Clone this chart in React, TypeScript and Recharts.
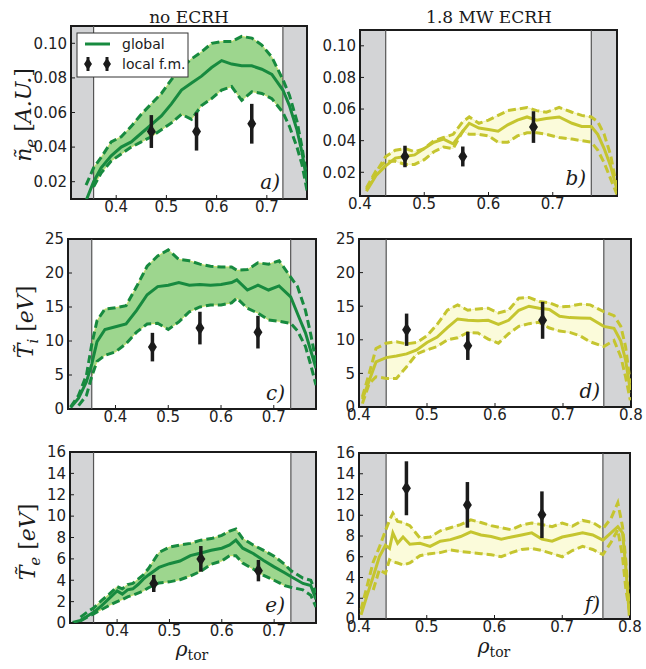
import React from 'react';
import {
  ComposedChart,
  Line,
  Area,
  Scatter,
  ErrorBar,
  XAxis,
  YAxis,
  ReferenceArea,
  ReferenceLine,
} from 'recharts';

// --- data ---

// a) n_e, no ECRH
const xA = [0.34, 0.355, 0.37, 0.39, 0.41, 0.43, 0.45, 0.47, 0.49, 0.51, 0.53, 0.55, 0.57, 0.59, 0.61, 0.63, 0.65, 0.67, 0.69, 0.71, 0.732, 0.745, 0.76, 0.77, 0.78];
const mainA = [0.009, 0.020, 0.028, 0.035, 0.040, 0.043, 0.048, 0.053, 0.058, 0.065, 0.073, 0.077, 0.081, 0.086, 0.090, 0.088, 0.087, 0.087, 0.085, 0.082, 0.073, 0.064, 0.050, 0.037, 0.020];
const hiA = [0.018, 0.028, 0.034, 0.043, 0.046, 0.052, 0.059, 0.065, 0.071, 0.079, 0.086, 0.091, 0.095, 0.100, 0.101, 0.101, 0.104, 0.103, 0.099, 0.092, 0.079, 0.070, 0.055, 0.040, 0.022];
const loA = [null, 0.017, 0.025, 0.032, 0.036, 0.040, 0.043, 0.046, 0.050, 0.054, 0.059, 0.056, 0.064, 0.068, 0.073, 0.075, 0.067, 0.072, 0.071, 0.068, 0.060, 0.052, 0.040, 0.030, 0.015];

// b) n_e, 1.8 MW ECRH
const xB = [0.41, 0.425, 0.44, 0.455, 0.47, 0.485, 0.50, 0.515, 0.53, 0.545, 0.56, 0.57, 0.585, 0.60, 0.615, 0.63, 0.645, 0.66, 0.675, 0.69, 0.71, 0.73, 0.745, 0.76, 0.77, 0.78, 0.79, 0.80];
const mainB = [0.008, 0.018, 0.024, 0.029, 0.030, 0.031, 0.035, 0.039, 0.041, 0.038, 0.046, 0.051, 0.048, 0.047, 0.046, 0.050, 0.053, 0.055, 0.053, 0.054, 0.055, 0.051, 0.049, 0.049, 0.044, 0.035, 0.024, 0.009];
const hiB = [0.009, 0.020, 0.030, 0.034, 0.035, 0.033, 0.035, 0.040, 0.042, 0.044, 0.052, 0.055, 0.051, 0.053, 0.056, 0.059, 0.060, 0.061, 0.059, 0.058, 0.061, 0.058, 0.056, 0.055, 0.052, 0.044, 0.031, 0.010];
const loB = [0.010, 0.021, 0.027, 0.027, 0.025, 0.025, 0.028, 0.033, 0.036, 0.035, 0.046, 0.044, 0.044, 0.043, 0.039, 0.039, 0.043, 0.045, 0.045, 0.044, 0.042, 0.041, 0.040, 0.039, 0.034, 0.026, 0.016, 0.006];

// c) T_i, no ECRH
const xC = [0.315, 0.33, 0.345, 0.355, 0.365, 0.38, 0.40, 0.42, 0.44, 0.46, 0.48, 0.50, 0.52, 0.54, 0.56, 0.58, 0.60, 0.62, 0.63, 0.65, 0.67, 0.69, 0.71, 0.732, 0.745, 0.76, 0.77, 0.78];
const mainC = [0.2, 1.6, 4.0, 6.6, 9.9, 11.7, 12.1, 12.5, 14.5, 16.8, 18.0, 18.2, 18.6, 18.2, 18.3, 18.2, 18.3, 18.6, 19.0, 17.5, 18.2, 17.5, 18.1, 16.5, 14.0, 11.2, 8.6, 6.0];
const hiC = [0.3, 2.0, 5.0, 9.5, 13.0, 14.7, 14.9, 15.2, 18.0, 21.0, 22.5, 23.4, 22.0, 21.8, 21.3, 21.0, 20.9, 20.9, 20.4, 20.5, 21.5, 21.3, 21.8, 19.4, 18.0, 14.5, 11.0, 7.0];
const loC = [null, 0.5, 2.0, 4.8, 7.0, 7.9, 8.4, 9.6, 11.3, 12.5, 12.6, 11.7, 12.8, 14.3, 15.0, 15.3, 15.3, 15.6, 16.3, 14.8, 14.1, 13.1, 12.9, 12.6, 11.5, 9.2, 6.5, 3.5];

// d) T_i, 1.8 MW ECRH
const xD = [0.405, 0.415, 0.425, 0.44, 0.455, 0.47, 0.485, 0.50, 0.515, 0.53, 0.545, 0.56, 0.575, 0.59, 0.605, 0.62, 0.635, 0.65, 0.665, 0.68, 0.695, 0.71, 0.725, 0.74, 0.76, 0.775, 0.785, 0.792, 0.799];
const mainD = [1.2, 3.9, 6.7, 7.35, 7.6, 7.9, 8.5, 9.6, 10.4, 11.8, 13.1, 12.9, 12.85, 12.9, 12.3, 12.9, 14.4, 15.0, 14.7, 14.5, 13.5, 13.3, 13.25, 13.2, 12.0, 11.7, 9.8, 7.0, 2.5];
const hiD = [1.5, 5.0, 8.7, 9.5, 9.7, 9.4, 9.6, 10.6, 12.3, 14.4, 15.2, 14.4, 14.6, 14.7, 14.0, 14.4, 16.2, 16.3, 15.7, 15.5, 14.9, 15.0, 15.3, 15.2, 14.2, 13.6, 12.0, 9.0, 3.5];
const loD = [0.5, 3.5, 4.5, 4.25, 4.25, 6.0, 7.9, 8.5, 9.0, 10.0, 10.3, 11.1, 11.0, 10.1, 9.5, 10.9, 12.0, 12.4, 12.6, 11.75, 11.3, 11.1, 10.6, 9.7, 9.0, 9.9, 7.5, 4.5, 1.0];

// e) T_e, no ECRH
const xE = [0.315, 0.33, 0.345, 0.355, 0.37, 0.385, 0.40, 0.41, 0.42, 0.43, 0.44, 0.45, 0.46, 0.48, 0.50, 0.52, 0.54, 0.56, 0.58, 0.60, 0.615, 0.627, 0.64, 0.66, 0.68, 0.70, 0.72, 0.732, 0.755, 0.77, 0.78];
const mainE = [0.05, 0.25, 0.7, 1.0, 1.6, 2.3, 3.0, 2.7, 3.1, 3.2, 3.6, 4.1, 4.5, 5.2, 5.55, 5.8, 6.3, 6.55, 6.8, 7.0, 7.3, 7.75, 7.0, 6.5, 5.85, 5.25, 4.7, 4.35, 3.7, 3.5, 2.2];
const hiE = [null, 0.55, 1.1, 1.4, 2.1, 2.7, 3.4, 3.2, 3.6, 3.7, 4.1, 4.5, 5.1, 6.6, 7.1, 7.3, 7.45, 7.75, 7.9, 8.2, 8.6, 8.8, 7.9, 7.3, 6.8, 6.25, 5.5, 4.9, 4.2, 4.0, 2.8];
const loE = [null, 0.2, 0.6, 0.85, 1.25, 1.65, 2.0, 2.2, 2.45, 2.6, 2.8, 3.0, 3.3, 3.75, 3.85, 4.05, 4.4, 4.85, 5.5, 5.8, 6.3, 6.3, 5.6, 5.05, 4.45, 4.0, 3.5, 3.35, 3.1, 2.6, 1.5];

// f) T_e, 1.8 MW ECRH
const xF = [0.403, 0.412, 0.421, 0.43, 0.439, 0.445, 0.45, 0.457, 0.465, 0.475, 0.49, 0.505, 0.52, 0.535, 0.55, 0.565, 0.58, 0.595, 0.61, 0.625, 0.64, 0.655, 0.67, 0.685, 0.70, 0.715, 0.73, 0.745, 0.76, 0.772, 0.782, 0.789, 0.794, 0.799];
const mainF = [0.4, 2.3, 4.1, 6.0, 7.1, 6.8, 8.3, 7.3, 7.9, 7.2, 7.3, 7.0, 7.5, 7.65, 7.95, 8.4, 8.1, 7.95, 7.7, 7.9, 8.1, 8.3, 7.7, 7.5, 7.9, 8.1, 8.3, 8.1, 7.6, 8.3, 8.9, 8.3, 4.8, 0.3];
const hiF = [0.9, 3.2, 5.5, 6.9, 8.5, 9.5, 10.2, 9.4, 9.3, 9.0, 7.8, 7.9, 8.5, 8.8, 9.1, 9.55, 9.3, 9.0, 8.8, 8.6, 9.05, 9.25, 9.1, 8.9, 9.25, 8.95, 9.5, 9.3, 8.7, 9.7, 11.2, 8.9, 5.5, 0.9];
const loF = [null, null, 2.8, 4.75, 4.4, 5.7, 5.5, 5.4, 5.2, 5.4, 6.1, 6.3, 6.4, 6.65, 6.5, 6.4, 6.3, 6.2, 6.0, 6.4, 6.7, 6.8, 6.6, 6.3, 6.0, 6.6, 7.0, 6.7, 6.2, 7.4, 8.6, 6.0, 2.8, 0.9];

// local fluctuation measurements (same radii in all panels)
const fmX = [0.47, 0.56, 0.67];
const fmA = [0.049, 0.049, 0.0535];
const fmErrA = [0.0095, 0.011, 0.0115];
const fmB = [0.030, 0.030, 0.0486];
const fmErrB = [0.0068, 0.0063, 0.010];
const fmC = [9.1, 11.9, 11.3];
const fmErrC = [2.1, 2.4, 2.4];
const fmD = [11.5, 9.1, 12.9];
const fmErrD = [2.4, 2.1, 2.75];
const fmE = [3.7, 6.0, 4.9];
const fmErrE = [0.8, 1.2, 1.0];
const fmF = [12.6, 11.0, 10.05];
const fmErrF = [2.6, 2.2, 2.25];

const ticksNoEcrh = [0.4, 0.5, 0.6, 0.7];
const ticksEcrhTop = [0.4, 0.5, 0.6, 0.7];
const ticksEcrh = [0.4, 0.5, 0.6, 0.7, 0.8];
const ticksNe = [0.02, 0.04, 0.06, 0.08, 0.10];
const ticksTi = [0, 5, 10, 15, 20, 25];
const ticksTe = [0, 2, 4, 6, 8, 10, 12, 14, 16];

// --- styling ---
const GREEN = { line: '#178a3f', fill: '#9dd68e', edge: '#c8d84c' };
const YELLOW = { line: '#c5c52f', fill: '#fbfbda', edge: '#ececa8' };
const GREY = '#d3d4d6';
const INK = '#1b1b1b';
const TICK_FONT = { fontFamily: 'DejaVu Sans', fontSize: 15, fill: '#222' };

type Box = { x0: number; x1: number; y0: number; y1: number };

const buildRows = (xs: number[], main: (number | null)[], hi: (number | null)[], lo: (number | null)[]) =>
  xs.map((x, i) => ({ x, main: main[i], hi: hi[i], lo: lo[i] }));

// fill_between only over the unshaded radial range
const buildBand = (rows: any[], a: number, b: number) =>
  rows
    .filter((r) => r.x >= a - 1e-9 && r.x <= b + 1e-9 && r.lo != null && r.hi != null)
    .map((r) => ({ x: r.x, band: [r.lo, r.hi] }));

const buildPts = (ys: number[], errs: number[]) => fmX.map((x, i) => ({ x, y: ys[i], err: errs[i] }));

const Diamond = (p: any) => {
  const { cx, cy } = p;
  if (cx == null || cy == null) return null;
  return <polygon points={`${cx},${cy - 7} ${cx + 4.5},${cy} ${cx},${cy + 7} ${cx - 4.5},${cy}`} fill={INK} />;
};

type PanelProps = {
  box: Box;
  xDomain: [number, number];
  yDomain: [number, number];
  xTicks: number[];
  yTicks: number[];
  yDigits: number;
  grey: [number, number];
  xs: number[];
  main: (number | null)[];
  hi: (number | null)[];
  lo: (number | null)[];
  fm: number[];
  fmErr: number[];
  theme: typeof GREEN;
};

function Panel({ box, xDomain, yDomain, xTicks, yTicks, yDigits, grey, xs, main, hi, lo, fm, fmErr, theme }: PanelProps) {
  const yw = 48, xh = 24, mt = 12, mr = 16;
  const W = yw + (box.x1 - box.x0) + mr;
  const H = mt + (box.y1 - box.y0) + xh;
  const rows = buildRows(xs, main, hi, lo);
  const band = buildBand(rows, grey[0], grey[1]);
  const pts = buildPts(fm, fmErr);

  return (
    <div style={{ position: 'absolute', left: box.x0 - yw, top: box.y0 - mt }}>
      <ComposedChart width={W} height={H} margin={{ top: mt, right: mr, left: 0, bottom: 0 }}>
        <XAxis
          dataKey="x"
          type="number"
          domain={xDomain}
          ticks={xTicks}
          interval={0}
          allowDataOverflow
          tickFormatter={(v: number) => v.toFixed(1)}
          height={xh}
          axisLine={false}
          tickSize={-4}
          tickMargin={6}
          tickLine={{ stroke: INK }}
          tick={TICK_FONT}
        />
        <XAxis
          xAxisId="top"
          orientation="top"
          type="number"
          domain={xDomain}
          ticks={xTicks}
          interval={0}
          allowDataOverflow
          height={0}
          axisLine={false}
          tickSize={-4}
          tickLine={{ stroke: INK }}
          tick={false}
        />
        <YAxis
          type="number"
          domain={yDomain}
          ticks={yTicks}
          interval={0}
          allowDataOverflow
          tickFormatter={(v: number) => v.toFixed(yDigits)}
          width={yw}
          axisLine={false}
          tickSize={-4}
          tickMargin={8}
          tickLine={{ stroke: INK }}
          tick={TICK_FONT}
        />
        <YAxis
          yAxisId="right"
          orientation="right"
          type="number"
          domain={yDomain}
          ticks={yTicks}
          interval={0}
          allowDataOverflow
          width={0}
          axisLine={false}
          tickSize={-4}
          tickLine={{ stroke: INK }}
          tick={false}
        />
        <ReferenceArea x1={xDomain[0]} x2={grey[0]} fill={GREY} fillOpacity={1} stroke="none" ifOverflow="visible" />
        <ReferenceArea x1={grey[1]} x2={xDomain[1]} fill={GREY} fillOpacity={1} stroke="none" ifOverflow="visible" />
        <ReferenceLine x={grey[0]} stroke="#555" strokeWidth={1.2} />
        <ReferenceLine x={grey[1]} stroke="#555" strokeWidth={1.2} />
        <Area
          data={band}
          dataKey="band"
          type="linear"
          stroke={theme.edge}
          strokeWidth={0.8}
          fill={theme.fill}
          fillOpacity={1}
          dot={false}
          activeDot={false}
          isAnimationActive={false}
        />
        <Line data={rows} dataKey="hi" type="linear" stroke={theme.line} strokeWidth={3} strokeDasharray="8 4" dot={false} activeDot={false} isAnimationActive={false} />
        <Line data={rows} dataKey="lo" type="linear" stroke={theme.line} strokeWidth={3} strokeDasharray="8 4" dot={false} activeDot={false} isAnimationActive={false} />
        <Line data={rows} dataKey="main" type="linear" stroke={theme.line} strokeWidth={3} dot={false} activeDot={false} isAnimationActive={false} />
        <Scatter data={pts} dataKey="y" shape={Diamond} isAnimationActive={false}>
          <ErrorBar dataKey="err" direction="y" width={0} strokeWidth={3.5} stroke={INK} />
        </Scatter>
        <ReferenceArea
          x1={xDomain[0]}
          x2={xDomain[1]}
          y1={yDomain[0]}
          y2={yDomain[1]}
          fill="none"
          stroke={INK}
          strokeWidth={2}
          ifOverflow="visible"
        />
      </ComposedChart>
    </div>
  );
}

const serif = 'DejaVu Serif';

function Overlay() {
  return (
    <svg width={646} height={669} style={{ position: 'absolute', left: 0, top: 0, pointerEvents: 'none' }}>
      {/* column titles */}
      <text x={189} y={23} textAnchor="middle" fontFamily={serif} fontSize={17} fill={INK}>no ECRH</text>
      <text x={489} y={23} textAnchor="middle" fontFamily={serif} fontSize={17} fill={INK}>1.8 MW ECRH</text>

      {/* y labels */}
      <text transform="translate(31,115) rotate(-90)" textAnchor="middle" fontFamily={serif} fontSize={22} fill={INK}>
        <tspan fontStyle="italic">ñ</tspan>
        <tspan fontStyle="italic" fontSize={15} dy={5}>e</tspan>
        <tspan dy={-5}> [</tspan>
        <tspan fontStyle="italic">A.U.</tspan>
        <tspan>]</tspan>
      </text>
      <text transform="translate(33,322) rotate(-90)" textAnchor="middle" fontFamily={serif} fontSize={22} fill={INK}>
        <tspan fontStyle="italic">T̃</tspan>
        <tspan fontStyle="italic" fontSize={15} dy={5}>i</tspan>
        <tspan dy={-5}> [</tspan>
        <tspan fontStyle="italic">eV</tspan>
        <tspan>]</tspan>
      </text>
      <text transform="translate(35,542) rotate(-90)" textAnchor="middle" fontFamily={serif} fontSize={22} fill={INK}>
        <tspan fontStyle="italic">T̃</tspan>
        <tspan fontStyle="italic" fontSize={15} dy={5}>e</tspan>
        <tspan dy={-5}> [</tspan>
        <tspan fontStyle="italic">eV</tspan>
        <tspan>]</tspan>
      </text>

      {/* x labels */}
      <text x={192} y={656} textAnchor="middle" fontFamily={serif} fontSize={20} fill={INK}>
        <tspan fontStyle="italic">ρ</tspan>
        <tspan fontSize={14} dy={4}>tor</tspan>
      </text>
      <text x={494} y={653} textAnchor="middle" fontFamily={serif} fontSize={20} fill={INK}>
        <tspan fontStyle="italic">ρ</tspan>
        <tspan fontSize={14} dy={4}>tor</tspan>
      </text>

      {/* panel letters */}
      <text x={280} y={189} textAnchor="end" fontFamily={serif} fontStyle="italic" fontSize={20} fill={INK}>a)</text>
      <text x={586} y={185} textAnchor="end" fontFamily={serif} fontStyle="italic" fontSize={20} fill={INK}>b)</text>
      <text x={285} y={400} textAnchor="end" fontFamily={serif} fontStyle="italic" fontSize={20} fill={INK}>c)</text>
      <text x={600} y={398} textAnchor="end" fontFamily={serif} fontStyle="italic" fontSize={20} fill={INK}>d)</text>
      <text x={285} y={612} textAnchor="end" fontFamily={serif} fontStyle="italic" fontSize={20} fill={INK}>e)</text>
      <text x={600} y={611} textAnchor="end" fontFamily={serif} fontStyle="italic" fontSize={20} fill={INK}>f)</text>

      {/* legend of panel a */}
      <rect x={77} y={33} width={111} height={44} fill="#fff" stroke="#333" strokeWidth={1} />
      <line x1={85} y1={44} x2={110} y2={44} stroke={GREEN.line} strokeWidth={3} />
      <text x={122} y={49} fontFamily="DejaVu Sans" fontSize={14} fill={INK}>global</text>
      <line x1={88} y1={57} x2={88} y2={71} stroke={INK} strokeWidth={3} />
      <polygon points="88,58 92,64 88,70 84,64" fill={INK} />
      <line x1={107} y1={57} x2={107} y2={71} stroke={INK} strokeWidth={3} />
      <polygon points="107,58 111,64 107,70 103,64" fill={INK} />
      <text x={122} y={69} fontFamily="DejaVu Sans" fontSize={14} fill={INK}>local f.m.</text>
    </svg>
  );
}

export default function App() {
  return (
    <div style={{ position: 'absolute', left: 0, top: 0, width: 646, height: 669, background: '#fff' }}>
      <Panel box={{ x0: 71, x1: 307, y0: 26, y1: 199 }} xDomain={[0.31, 0.78]} yDomain={[0.01, 0.11]} xTicks={ticksNoEcrh} yTicks={ticksNe} yDigits={2}
        grey={[0.355, 0.732]} xs={xA} main={mainA} hi={hiA} lo={loA} fm={fmA} fmErr={fmErrA} theme={GREEN} />
      <Panel box={{ x0: 360, x1: 617, y0: 30, y1: 196 }} xDomain={[0.4, 0.8]} yDomain={[0.005, 0.11]} xTicks={ticksEcrhTop} yTicks={ticksNe} yDigits={2}
        grey={[0.44, 0.76]} xs={xB} main={mainB} hi={hiB} lo={loB} fm={fmB} fmErr={fmErrB} theme={YELLOW} />
      <Panel box={{ x0: 68, x1: 316, y0: 239, y1: 409 }} xDomain={[0.31, 0.78]} yDomain={[0, 25]} xTicks={ticksNoEcrh} yTicks={ticksTi} yDigits={0}
        grey={[0.355, 0.732]} xs={xC} main={mainC} hi={hiC} lo={loC} fm={fmC} fmErr={fmErrC} theme={GREEN} />
      <Panel box={{ x0: 359, x1: 631, y0: 239, y1: 407 }} xDomain={[0.4, 0.8]} yDomain={[0, 25]} xTicks={ticksEcrh} yTicks={ticksTi} yDigits={0}
        grey={[0.44, 0.76]} xs={xD} main={mainD} hi={hiD} lo={loD} fm={fmD} fmErr={fmErrD} theme={YELLOW} />
      <Panel box={{ x0: 70, x1: 316, y0: 452, y1: 623 }} xDomain={[0.31, 0.78]} yDomain={[0, 16]} xTicks={ticksNoEcrh} yTicks={ticksTe} yDigits={0}
        grey={[0.355, 0.732]} xs={xE} main={mainE} hi={hiE} lo={loE} fm={fmE} fmErr={fmErrE} theme={GREEN} />
      <Panel box={{ x0: 359, x1: 630, y0: 453, y1: 619 }} xDomain={[0.4, 0.8]} yDomain={[0, 16]} xTicks={ticksEcrh} yTicks={ticksTe} yDigits={0}
        grey={[0.44, 0.76]} xs={xF} main={mainF} hi={hiF} lo={loF} fm={fmF} fmErr={fmErrF} theme={YELLOW} />
      <Overlay />
    </div>
  );
}
